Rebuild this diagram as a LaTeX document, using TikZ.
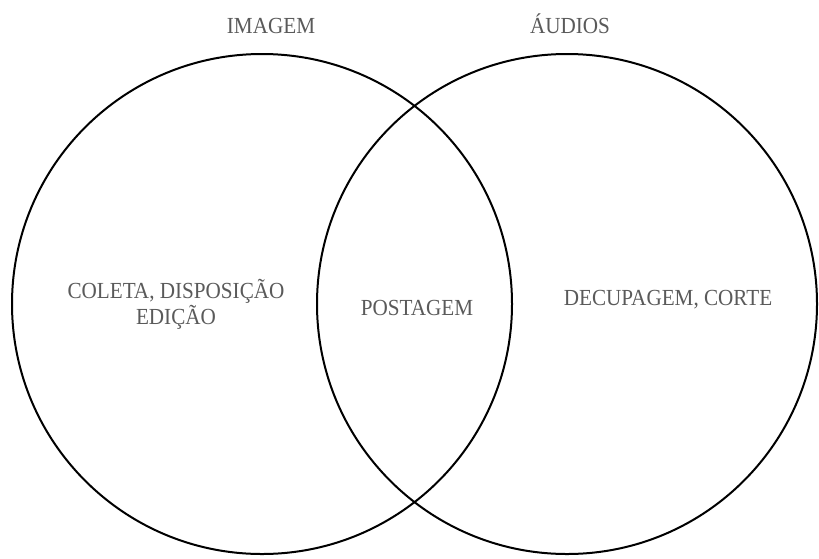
\documentclass[tikz,border=0pt]{standalone}
\usepackage{fontspec}
\setmainfont[FakeStretch=0.92]{Liberation Serif}
\usetikzlibrary{positioning}
\definecolor{rotulo}{HTML}{5A5A5A}
\tikzset{
  % conjuntos
  conj/.style={circle,draw=black,line width=2pt,inner sep=0pt,
               minimum size=500pt},
  rot/.style={text=rotulo,font=\fontsize{23}{22}\selectfont,inner sep=0pt,
              align=center,anchor=base},
}
\begin{document}
\begin{tikzpicture}[x=1pt,y=-1pt]
  \useasboundingbox (0,0) rectangle (819,558);
  \node[conj] (imagem) at (262,304) {};
  \node[conj] (audios) at (567,304) {};
  \node[rot] (timagem) at (271,33) {IMAGEM};
  \node[rot] (taudios) at (570,33) {ÁUDIOS};
  \node[rot] (coleta) at (176,324) {COLETA, DISPOSIÇÃO\\EDIÇÃO};
  \node[rot] (postagem) at (417,315) {POSTAGEM};
  \node[rot] (decupagem) at (668,305) {DECUPAGEM, CORTE};
\end{tikzpicture}
\end{document}
